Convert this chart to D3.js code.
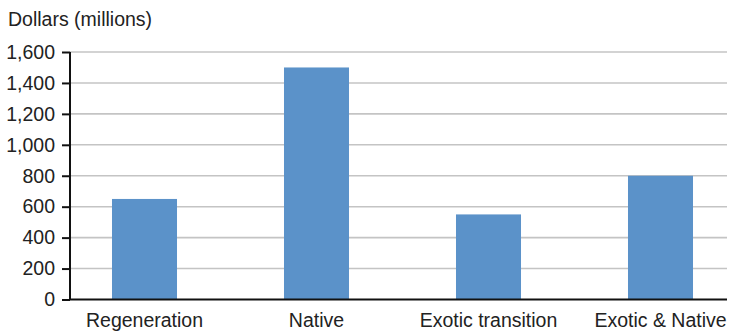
<!DOCTYPE html>
<html><head><meta charset="utf-8">
<script src="https://cdn.jsdelivr.net/npm/d3@7"></script>
<style>body{margin:0;background:#fff;} text{font-family:"Liberation Sans",Arial,sans-serif;fill:#222;}</style>
</head><body><svg id="c" width="735" height="334"></svg>
<script>
const categories = ["Regeneration","Native","Exotic transition","Exotic & Native"];
const values = [650, 1500, 550, 800];
const yTicks = [0,200,400,600,800,1000,1200,1400,1600];
const yLabel = "Dollars (millions)";

const svg = d3.select("#c");
const axisX = 70, gridEnd = 727, fs = 19.5;
const y = d3.scaleLinear().domain([0,1600]).range([299.5,52]);
const x = d3.scaleBand().domain(categories).range([58.5,746.5]).paddingInner(0.622).paddingOuter(0.311);

// gridlines
svg.append("g").selectAll("line").data(yTicks.filter(d=>d>0)).join("line")
  .attr("x1",axisX).attr("x2",gridEnd).attr("y1",d=>y(d)).attr("y2",d=>y(d))
  .attr("stroke","#c4c4c4").attr("stroke-width",1.6);

// bars
svg.append("g").selectAll("rect").data(values).join("rect")
  .attr("x",(d,i)=>x(categories[i])).attr("width",x.bandwidth())
  .attr("y",d=>y(d)).attr("height",d=>y(0)-y(d)).attr("fill","#5b92c9");

// y axis
const ya = svg.append("g").attr("transform",`translate(${axisX},0)`)
  .call(d3.axisLeft(y).tickValues(yTicks).tickSize(8).tickPadding(7).tickFormat(d3.format(",")));
ya.select(".domain").attr("stroke","#111").attr("stroke-width",2).attr("d",`M0,${y(1600)}V${y(0)}`);
ya.selectAll(".tick line").attr("stroke","#111").attr("stroke-width",2);
ya.selectAll(".tick text").attr("font-size",fs).attr("fill","#222").attr("font-family","Liberation Sans, Arial, sans-serif");

// x axis
const xa = svg.append("g").attr("transform",`translate(0,${y(0)})`)
  .call(d3.axisBottom(x).tickSize(0).tickPadding(14));
xa.select(".domain").attr("stroke","#111").attr("stroke-width",2.2).attr("d",`M${axisX-1},0H${gridEnd}`);
xa.selectAll(".tick text").attr("font-size",fs).attr("fill","#222").attr("font-family","Liberation Sans, Arial, sans-serif");

svg.append("text").attr("x",8).attr("y",26).attr("font-size",fs).text(yLabel);
</script></body></html>
